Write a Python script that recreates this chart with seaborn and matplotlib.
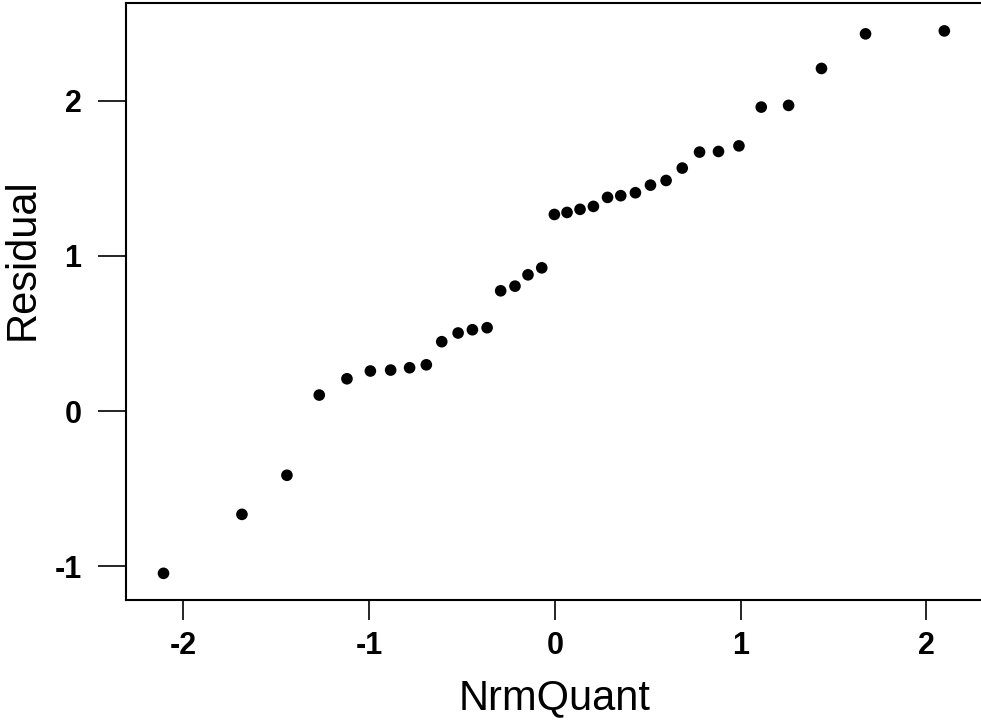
import pandas as pd
import matplotlib
matplotlib.use("Agg")
import matplotlib.pyplot as plt
import seaborn as sns

# Normal quantiles vs residuals
nrm_quant = [-2.105, -1.683, -1.441, -1.267, -1.118, -0.992, -0.883, -0.781, -0.691,
             -0.608, -0.520, -0.443, -0.364, -0.291, -0.214, -0.144, -0.070, -0.002,
             0.066, 0.136, 0.208, 0.284, 0.355, 0.434, 0.515, 0.599, 0.686,
             0.779, 0.881, 0.991, 1.111, 1.258, 1.435, 1.672, 2.096]
residual = [-1.046, -0.666, -0.414, 0.103, 0.208, 0.258, 0.264, 0.279, 0.298,
            0.447, 0.503, 0.524, 0.537, 0.775, 0.805, 0.878, 0.923, 1.267,
            1.280, 1.300, 1.319, 1.377, 1.388, 1.407, 1.456, 1.486, 1.566,
            1.669, 1.673, 1.709, 1.959, 1.970, 2.208, 2.431, 2.450]
x_ticks = [-2, -1, 0, 1, 2]
y_ticks = [-1, 0, 1, 2]

df = pd.DataFrame({"NrmQuant": nrm_quant, "Residual": residual})

sns.set_theme(style="white")
plt.rcParams['font.family'] = ['Liberation Sans', 'DejaVu Sans']
plt.rcParams['text.color'] = 'black'
plt.rcParams['axes.labelcolor'] = 'black'
plt.rcParams['xtick.color'] = 'black'
plt.rcParams['ytick.color'] = 'black'

fig = plt.figure(figsize=(9.81, 7.28), dpi=100)
ax = fig.add_axes([0.1284, 0.1758, 0.8742, 0.8201])

sns.scatterplot(data=df, x="NrmQuant", y="Residual", color="black",
                s=70, edgecolor="none", ax=ax)

ax.set_xlim(-2.307, 2.307)
ax.set_ylim(-1.218, 2.63)
ax.set_xticks(x_ticks)
ax.set_yticks(y_ticks)
ax.set_xticklabels([str(t) for t in x_ticks], fontsize=22, fontweight="bold")
ax.set_yticklabels([str(t) for t in y_ticks], fontsize=22, fontweight="bold")
ax.tick_params(axis="both", bottom=True, left=True, direction="out",
               width=1.2, color="black")
ax.tick_params(axis="x", length=14.5, pad=8)
ax.tick_params(axis="y", length=20, pad=12)

for side in ax.spines.values():
    side.set_color("black")
    side.set_linewidth(1.5)

ax.set_xlabel("NrmQuant", fontsize=30, labelpad=12)
ax.set_ylabel("Residual", fontsize=30)
# the y label sits a bit above the middle of the axis in the original
ax.yaxis.set_label_coords(-0.097, 0.571)

plt.savefig("out.png", dpi=100)
